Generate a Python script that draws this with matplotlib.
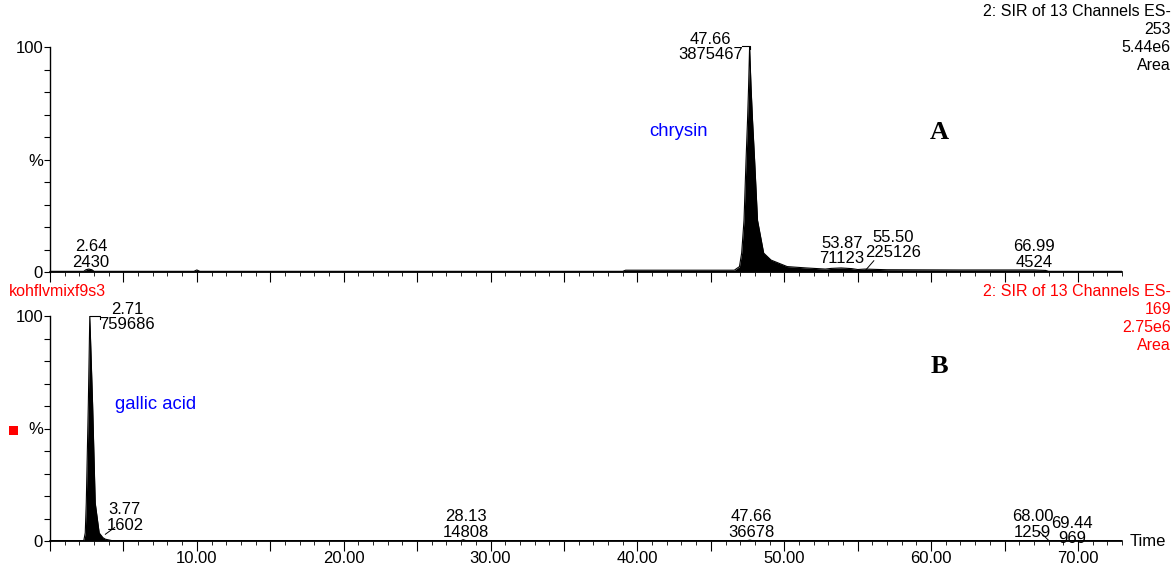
import matplotlib.pyplot as plt
from matplotlib.ticker import MultipleLocator, FuncFormatter
from matplotlib.patches import Rectangle

plt.rcParams['font.family'] = ['Liberation Sans', 'DejaVu Sans']

# Trace A: SIR channel 253 (chrysin), relative intensity in %
top_time = [0.0, 2.3, 2.45, 2.64, 2.85, 3.0, 9.8, 10.0, 10.2, 39.0, 39.2, 46.6,
            46.95, 47.1, 47.26, 47.4, 47.5, 47.57, 47.64, 47.74, 47.84, 47.98,
            48.18, 48.6, 49.1, 50.2, 51.5, 52.8, 53.2, 53.87, 54.6, 55.0, 55.5,
            57.0, 62.0, 66.99, 67.8, 68.0, 73.0]
top_pct = [0.3, 0.3, 1.0, 1.3, 1.0, 0.3, 0.3, 0.9, 0.3, 0.3, 0.8, 0.8,
           2.4, 8.4, 23, 50, 67.5, 82, 100, 82, 67.5, 50,
           23, 8.4, 5.3, 2.4, 1.8, 1.3, 1.6, 1.8, 1.5, 1.1, 1.3,
           1.0, 0.9, 0.9, 0.7, 0.3, 0.3]

# Trace B: SIR channel 169 (gallic acid)
bot_time = [0.0, 2.3, 2.4, 2.47, 2.61, 2.71, 2.9, 3.08, 3.35, 3.6, 3.77, 4.2,
            28.0, 28.13, 28.3, 47.5, 47.66, 47.8, 73.0]
bot_pct = [0.2, 0.2, 3.6, 16.9, 61, 100, 61, 16.9, 3.6, 1.5, 0.8, 0.2,
           0.2, 0.6, 0.2, 0.2, 0.4, 0.2, 0.2]

# peak labels: retention time, area
top_peaks = ['2.64', '47.66', '53.87', '55.50', '66.99']
top_areas = ['2430', '3875467', '71123', '225126', '4524']
bot_peaks = ['2.71', '3.77', '28.13', '47.66', '68.00', '69.44']
bot_areas = ['759686', '1602', '14808', '36678', '1259', '969']

# label block centres (time, %)
top_lab_pos = [(2.79, 7.8), (44.97, 100.0), (53.94, 9.3), (57.4, 12.0), (67.0, 7.8)]
bot_lab_pos = [(5.24, 99.5), (5.1, 10.5), (28.3, 7.3), (47.76, 7.3), (66.9, 7.3), (69.6, 4.5)]

W, H = 1174, 566
fig = plt.figure(figsize=(W / 100, H / 100), dpi=100)

def px2fig(x, y):
    return x / W, 1 - y / H

left, right = 50 / W, 1122 / W
ax_a = fig.add_axes([left, 1 - 272 / H, right - left, 225 / H])
ax_b = fig.add_axes([left, 1 - 541 / H, right - left, 225 / H])

for ax, t, p in [(ax_a, top_time, top_pct), (ax_b, bot_time, bot_pct)]:
    ax.fill_between(t, 0, p, color='black', linewidth=0)
    ax.plot(t, p, color='black', linewidth=0.8)
    ax.set_xlim(0, 73)
    ax.set_ylim(0, 100)
    ax.spines['top'].set_visible(False)
    ax.spines['right'].set_visible(False)
    ax.spines['left'].set_linewidth(1.0)
    ax.spines['bottom'].set_linewidth(1.2)
    ax.set_yticks([0, 50, 100])
    ax.set_yticklabels(['0', '%', '100'])
    ax.yaxis.set_minor_locator(MultipleLocator(10))
    ax.xaxis.set_major_locator(MultipleLocator(5))
    ax.xaxis.set_minor_locator(MultipleLocator(1))
    ax.tick_params(axis='y', which='both', length=4, width=0.8, pad=1, labelsize=12)
    ax.tick_params(axis='x', which='major', length=7, width=0.8, labelsize=12, pad=0.5)
    ax.tick_params(axis='x', which='minor', length=3, width=0.6)
    ax.patch.set_visible(False)

ax_a.tick_params(axis='x', labelbottom=False)
ax_b.xaxis.set_major_formatter(FuncFormatter(lambda v, _: '%.2f' % v if v % 10 == 0 and v > 0 else ''))

def peak_labels(ax, peaks, areas, pos):
    for rt, area, (x, y) in zip(peaks, areas, pos):
        ax.text(x, y, rt + '\n' + area, ha='center', va='center', fontsize=12,
                linespacing=1.05, clip_on=False)

peak_labels(ax_a, top_peaks, top_areas, top_lab_pos)
peak_labels(ax_b, bot_peaks, bot_areas, bot_lab_pos)

# leader lines
ax_a.plot([47.14, 47.64, 47.64], [100.5, 100.5, 99], color='black', lw=0.8, clip_on=False)
ax_a.plot([55.5, 56.1], [0.5, 5.0], color='black', lw=0.7)
ax_b.plot([2.71, 3.4, 3.4], [100, 100, 98.5], color='black', lw=0.8, clip_on=False)
ax_b.plot([3.77, 4.4], [3.0, 6.0], color='black', lw=0.7)
ax_b.plot([68.0, 67.4], [0.3, 4.1], color='black', lw=0.7)

ax_a.text(40.8, 62.5, 'chrysin', color='blue', fontsize=13.3, va='center')
ax_b.text(4.4, 60.5, 'gallic acid', color='blue', fontsize=13.3, va='center')
ax_a.text(60.55, 62, 'A', fontsize=19, fontweight='bold', family='Liberation Serif',
          ha='center', va='center')
ax_b.text(60.55, 77.5, 'B', fontsize=19, fontweight='bold', family='Liberation Serif',
          ha='center', va='center')

# header text
for i, s in enumerate(['2: SIR of 13 Channels ES-', '253', '5.44e6', 'Area']):
    fig.text(*px2fig(1171, 12 + 18 * i), s, ha='right', va='center', fontsize=11.5)
for i, s in enumerate(['2: SIR of 13 Channels ES-', '169', '2.75e6', 'Area']):
    fig.text(*px2fig(1171, 292 + 18 * i), s, ha='right', va='center', fontsize=11.5, color='red')
fig.text(*px2fig(9, 292), 'kohflvmixf9s3', ha='left', va='center', fontsize=11.5, color='red')
fig.patches.append(Rectangle(px2fig(9, 435), 9 / W, 9 / H, transform=fig.transFigure,
                             facecolor='red', edgecolor='none'))
fig.text(*px2fig(1130, 542), 'Time', ha='left', va='center', fontsize=12)

fig.savefig('out.png', dpi=100)
